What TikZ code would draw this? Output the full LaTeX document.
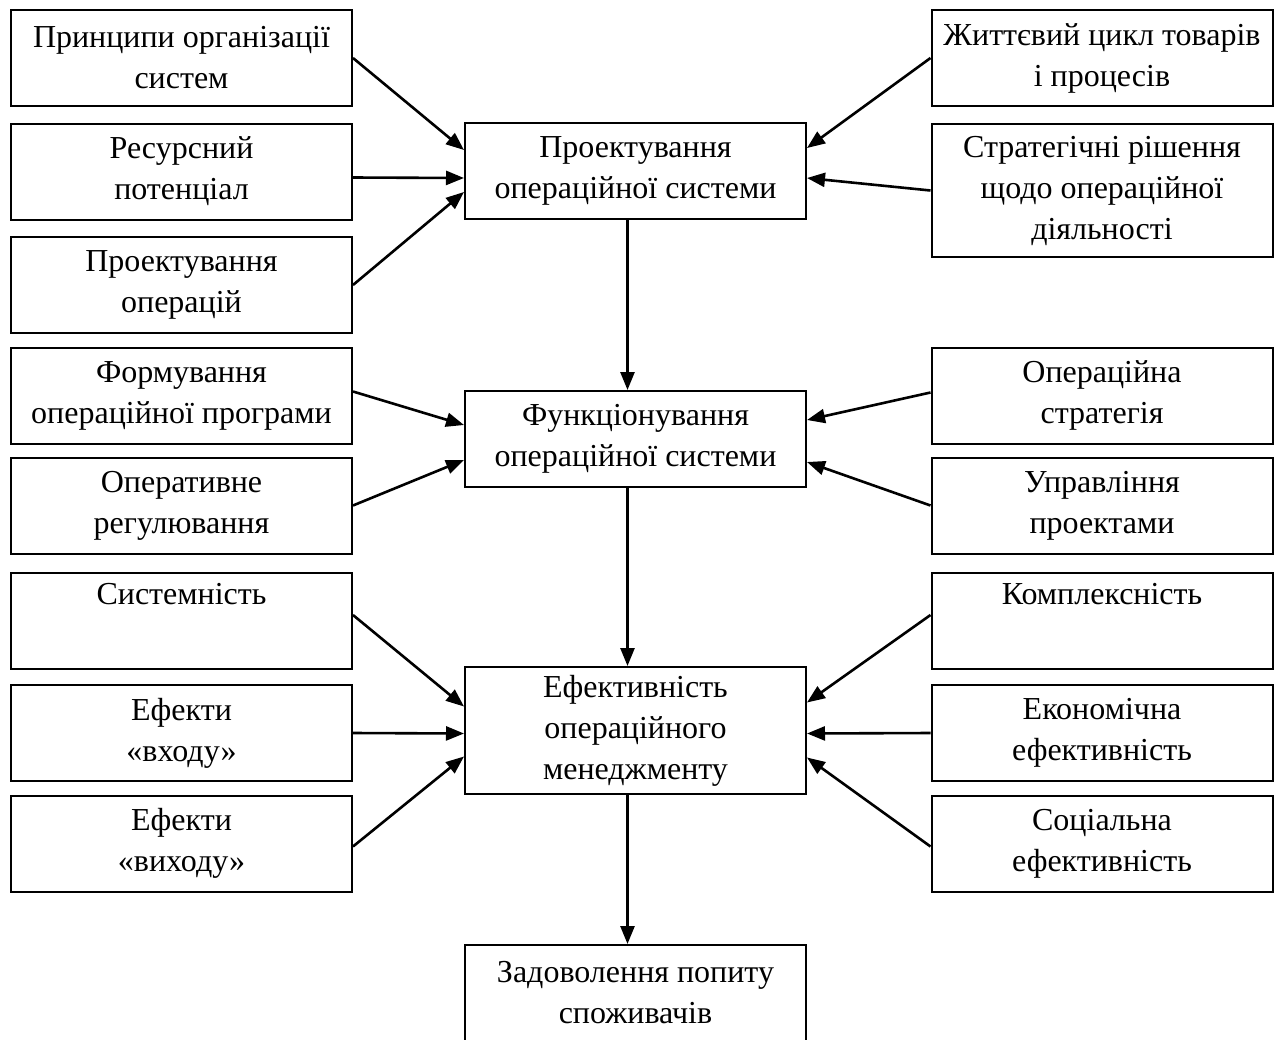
\documentclass[tikz,border=0pt]{standalone}
\usepackage{fontspec}
\setmainfont{Liberation Serif}
\usetikzlibrary{arrows.meta}

\tikzset{
  caja/.style={draw, line width=2pt, minimum width=341pt, minimum height=96pt,
    inner sep=0pt, align=center, font=\fontsize{32}{41}\selectfont},
  flecha/.style={line width=2.6pt, -{Triangle[length=18pt,width=14pt]}}
}

\begin{document}
\begin{tikzpicture}[x=1pt,y=-1pt]
    \useasboundingbox (0,0) rectangle (1280,1039);

    % Definir las columnas
    \def\xl{181.5}
    \def\xc{635.5}
    \def\xr{1102}

    % Bloques de la izquierda
    \node[caja] (princ) at (\xl,58) {Принципи організації\\систем};
    \node[caja] (resurs) at (\xl,171.5) {Ресурсний\\потенціал};
    \node[caja] (proop) at (\xl,285) {Проектування\\операцій};
    \node[caja] (formuv) at (\xl,395.5) {Формування\\операційної програми};
    \node[caja] (operreg) at (\xl,505.5) {Оперативне\\регулювання};
    \node[caja] (system) at (\xl,621) {Системність\\\strut};
    \node[caja] (vhid) at (\xl,733) {Ефекти\\«входу»};
    \node[caja] (vyhid) at (\xl,843.5) {Ефекти\\«виходу»};

    % Bloques de la derecha
    \node[caja] (cykl) at (\xr,58) {Життєвий цикл товарів\\і процесів};
    \node[caja, minimum height=133pt] (strat) at (\xr,190.5) {Стратегічні рішення\\щодо операційної\\діяльності};
    \node[caja] (operstr) at (\xr,395.5) {Операційна\\стратегія};
    \node[caja] (upr) at (\xr,505.5) {Управління\\проектами};
    \node[caja] (kompl) at (\xr,621) {Комплексність\\\strut};
    \node[caja] (ekon) at (\xr,733) {Економічна\\ефективність};
    \node[caja] (soc) at (\xr,843.5) {Соціальна\\ефективність};

    % Bloques centrales
    \node[caja] (proekt) at (\xc,171) {Проектування\\операційної системи};
    \node[caja] (funk) at (\xc,439) {Функціонування\\операційної системи};
    \node[caja, minimum height=127pt] (efekt) at (\xc,730.5) {Ефективність\\операційного\\менеджменту};
    \node[caja] (zadov) at (\xc,993) {Задоволення попиту\\споживачів};

    % Flechas hacia el primer bloque
    \draw[flecha] (princ.east) -- ([yshift=21pt]proekt.west);
    \draw[flecha] ([yshift=-6pt]resurs.east) -- ([yshift=-7pt]proekt.west);
    \draw[flecha] (proop.east) -- ([yshift=-21pt]proekt.west);
    \draw[flecha] (cykl.west) -- ([yshift=23pt]proekt.east);
    \draw[flecha] (strat.west) -- ([yshift=-7pt]proekt.east);

    % Flechas hacia el segundo bloque
    \draw[flecha] ([yshift=4pt]formuv.east) -- ([yshift=14pt]funk.west);
    \draw[flecha] (operreg.east) -- ([yshift=-21pt]funk.west);
    \draw[flecha] ([yshift=3pt]operstr.west) -- ([yshift=19pt]funk.east);
    \draw[flecha] (upr.west) -- ([yshift=-23pt]funk.east);

    % Flechas hacia el tercer bloque
    \draw[flecha] ([yshift=6pt]system.east) -- ([yshift=24pt]efekt.west);
    \draw[flecha] (vhid.east) -- ([yshift=-3pt]efekt.west);
    \draw[flecha] ([yshift=-3pt]vyhid.east) -- ([yshift=-26pt]efekt.west);
    \draw[flecha] ([yshift=6pt]kompl.west) -- ([yshift=28pt]efekt.east);
    \draw[flecha] (ekon.west) -- ([yshift=-3pt]efekt.east);
    \draw[flecha] ([yshift=-3pt]soc.west) -- ([yshift=-27pt]efekt.east);

    % Flechas verticales
    \draw[flecha] ([xshift=-8pt]proekt.south) -- ([xshift=-8pt]funk.north);
    \draw[flecha] ([xshift=-8pt]funk.south) -- ([xshift=-8pt]efekt.north);
    \draw[flecha] ([xshift=-8pt]efekt.south) -- ([xshift=-8pt]zadov.north);
\end{tikzpicture}
\end{document}
